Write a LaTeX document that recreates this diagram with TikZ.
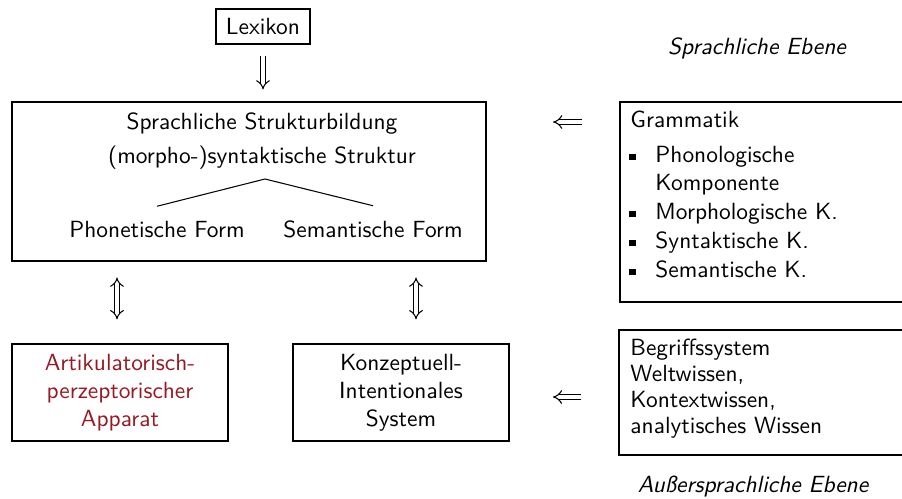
\documentclass[tikz,border=0pt]{standalone}
\usepackage{fontspec}
\renewcommand{\familydefault}{\sfdefault}
\usetikzlibrary{arrows.meta}
\definecolor{artred}{RGB}{150,25,35}
\begin{document}
\begin{tikzpicture}[x=0.4274pt,y=-0.4274pt,
  box/.style={draw, line width=0.5pt, inner sep=0pt},
  txt/.style={inner sep=0pt, anchor=base},
  ltxt/.style={inner sep=0pt, anchor=base west},
  dbl/.style={double, double distance=1.6pt, line width=0.45pt, -{Implies}},
  dbltwo/.style={double, double distance=1.6pt, line width=0.45pt, {Implies}-{Implies}},
  bul/.style={inner sep=0pt, anchor=base west}]
\useasboundingbox (0,0) rectangle (902,498);

% boxes
\node[box, minimum width=40.2pt, minimum height=15pt] (lex) at (263,26.5) {Lexikon};
\node[box, minimum width=202.6pt, minimum height=68pt] (main) at (249,181.5) {};
\node[box, minimum width=92.3pt, minimum height=41.5pt, align=center, text=artred] (artik) at (120,392.5) {Artikulatorisch-\\perzeptorischer\\Apparat};
\node[box, minimum width=92.3pt, minimum height=41.5pt, align=center] (konz) at (401,392.5) {Konzeptuell-\\Intentionales\\System};
\node[box, minimum width=126.1pt, minimum height=85.5pt] (gram) at (767.5,202) {};
\node[box, minimum width=126.5pt, minimum height=53.4pt] (begr) at (767,392.5) {};

% main box content
\node[txt] (sb) at (262,129) {Sprachliche Strukturbildung};
\node[txt] (ms) at (262,163) {(morpho-)syntaktische Struktur};
\node[txt] (pf) at (157,237) {Phonetische Form};
\node[txt] (sf) at (373,237) {Semantische Form};
\coordinate (apex) at (265,179);
\draw[line width=0.45pt] ([yshift=6pt]pf.north) -- (apex) -- ([yshift=6pt]sf.north);

% Grammatik content
\node[ltxt] (gt) at (630,127) {Grammatik};
\node[bul] (b1) at (629,162) {\rule[0.9pt]{2.6pt}{2.6pt}};
\node[ltxt] (g1) at (655,162) {Phonologische};
\node[ltxt] (g1b) at (655,190) {Komponente};
\node[bul] (b2) at (629,219) {\rule[0.9pt]{2.6pt}{2.6pt}};
\node[ltxt] (g2) at (655,219) {Morphologische K.};
\node[bul] (b3) at (629,248) {\rule[0.9pt]{2.6pt}{2.6pt}};
\node[ltxt] (g3) at (655,248) {Syntaktische K.};
\node[bul] (b4) at (629,277) {\rule[0.9pt]{2.6pt}{2.6pt}};
\node[ltxt] (g4) at (655,277) {Semantische K.};

% Begriffssystem content
\node[ltxt] (bt) at (630,355) {Begriffssystem};
\node[ltxt] (bw) at (630,381) {Weltwissen,};
\node[ltxt] (bk) at (630,407) {Kontextwissen,};
\node[ltxt] (ba) at (630,433) {analytisches Wissen};

% level labels
\node[txt, font=\itshape] (se) at (757,54) {Sprachliche Ebene};
\node[txt, font=\itshape] (ae) at (753,492) {Außersprachliche Ebene};

% arrows
\coordinate (ua) at (117,0);
\coordinate (ub) at (416,0);
\coordinate (la) at (0,122);
\coordinate (lb) at (0,397);
\draw[dbl, shorten <=4.7pt, shorten >=5.1pt] (lex.south) -- (lex.south |- main.north);
\draw[dbltwo, shorten <=6.8pt, shorten >=10.3pt] (ua |- main.south) -- (ua |- artik.north);
\draw[dbltwo, shorten <=6.8pt, shorten >=10.3pt] (ub |- main.south) -- (ub |- konz.north);
\draw[dbl, shorten <=16.2pt, shorten >=28.4pt] (gram.west |- la) -- (main.east |- la);
\draw[dbl, shorten <=15.8pt, shorten >=18.5pt] (begr.west |- lb) -- (konz.east |- lb);
\end{tikzpicture}
\end{document}
